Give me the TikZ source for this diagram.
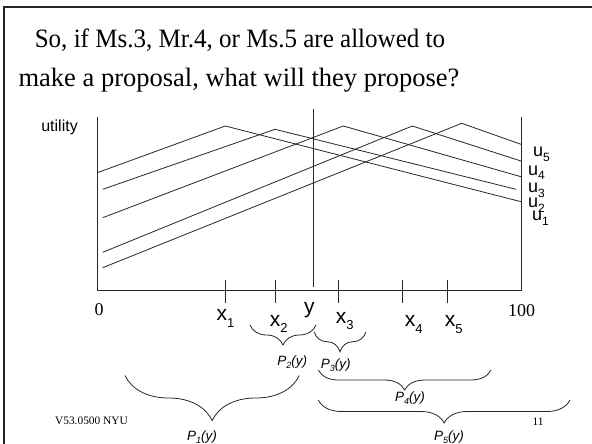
\documentclass[tikz,border=0pt]{standalone}
\usepackage{fontspec}
\setmainfont{Liberation Serif}
\setsansfont{Liberation Sans}
\usetikzlibrary{decorations.pathreplacing}
\newcommand\xsb[1]{\raisebox{-6.5pt}{\fontsize{13}{13}\selectfont #1}}
\newcommand\usb[1]{\raisebox{-5pt}{\fontsize{12}{12}\selectfont #1}}
\newcommand\psb[1]{\raisebox{-3pt}{\fontsize{9}{9}\selectfont #1}}
\begin{document}
\begin{tikzpicture}[x=1pt,y=-1pt,
  ln/.style={line width=0.8pt, black!85},
  frm/.style={line width=1.6pt, black!85},
  xlab/.style={inner sep=0pt, anchor=base west, font=\sffamily\fontsize{21}{21}\selectfont},
  ulab/.style={inner sep=0pt, anchor=base west, font=\sffamily\fontsize{18}{18}\selectfont},
  plab/.style={inner sep=0pt, font=\sffamily\itshape\fontsize{13.5}{13.5}\selectfont},
  nlab/.style={inner sep=0pt, anchor=base, font=\fontsize{18}{18}\selectfont},
  ttl/.style={inner sep=0pt, anchor=base, font=\fontsize{26.5}{26.5}\selectfont},
  foot/.style={inner sep=0pt, anchor=base, font=\fontsize{11.4}{11.4}\selectfont},
  brc/.style={decorate, decoration={brace, amplitude=#1}, line width=0.8pt, black!85},
  ]
\useasboundingbox (0,0) rectangle (592,444);
% frame
\draw[frm] (4,444) -- (4,7) -- (592,7);
% title
\node[ttl] (t1) at (240,48) {\scalebox{0.945}[1]{So, if Ms.3, Mr.4, or Ms.5 are allowed to}};
\node[ttl] (t2) at (239,87) {make a proposal, what will they propose?};
% axes
\coordinate (o) at (97.3,290);
\coordinate (yt) at (97.3,117);
\coordinate (r) at (521,290);
\coordinate (rt) at (521,117);
\draw[ln] (yt) -- (o) -- (r) -- (rt);
\node[inner sep=0pt, anchor=base east, font=\sffamily\fontsize{16}{16}\selectfont] (ut) at (78,131.5) {utility};
% y line
\coordinate (ya) at (313.8,109);
\coordinate (yb) at (313.8,287);
\draw[ln] (ya) -- (yb);
% ticks
\foreach \t/\xx in {1/225.3,2/275,3/338.7,4/402.3,5/447}{
  \draw[ln] (\xx,280) -- (\xx,302.7);
}
% utility curves
\draw[ln] (97.3,172.7) -- (225.3,126) -- (521,201.7);
\draw[ln] (102.7,189.3) -- (275,129.3) -- (516,189.3);
\draw[ln] (102.7,217.7) -- (343.3,126) -- (521,176.7);
\draw[ln] (102.7,252.3) -- (412.3,126) -- (521,161);
\draw[ln] (102.7,267.7) -- (461.7,123.3) -- (521,144.3);
% u labels
\node[ulab] (u5) at (533,156) {u\usb{5}};
\node[ulab] (u4) at (528,175) {u\usb{4}};
\node[ulab] (u3) at (528,192) {u\usb{3}};
\node[ulab] (u2) at (528,207.5) {u\usb{2}};
\node[ulab] (u1) at (532,220) {u\usb{1}};
% axis numbers
\node[nlab] (n0) at (99,315.5) {0};
\node[nlab] (n100) at (521.7,316) {100};
% x labels
\node[xlab] (x1) at (216.4,320.8) {x\xsb{1}};
\node[xlab] (x2) at (269.7,326) {x\xsb{2}};
\node[xlab] (yl) at (304,313.6) {y};
\node[xlab] (x3) at (335.7,323) {x\xsb{3}};
\node[xlab] (x4) at (404.7,326.5) {x\xsb{4}};
\node[xlab] (x5) at (444.7,326.5) {x\xsb{5}};
% braces
\draw[brc=20] (316,325) -- (250,325);
\draw[brc=20] (366,331.7) -- (314,331.7);
\draw[brc=20] (491,370) -- (318.3,370);
\draw[brc=45] (299.3,375.5) -- (125,375.5);
\draw[brc=23] (570,400) -- (318.3,400);
% brace labels
\node[plab] (p2) at (292.3,361.7) {P\psb{2}(y)};
\node[plab] (p3) at (335.8,365) {P\psb{3}(y)};
\node[plab] (p4) at (410,398) {P\psb{4}(y)};
\node[plab] (p1) at (202,437) {P\psb{1}(y)};
\node[plab] (p5) at (449,437) {P\psb{5}(y)};
% footer
\node[foot] (ft) at (91.5,424.5) {V53.0500 NYU};
\node[foot] (pg) at (538,425) {11};
\end{tikzpicture}
\end{document}
